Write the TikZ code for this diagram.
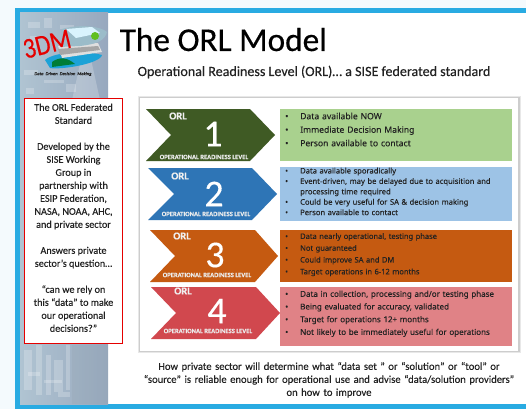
\documentclass[tikz,border=0pt]{standalone}
\usepackage{fontspec}
\setmainfont{Carlito}[FakeBold=0.25]
\newfontfamily\bulletfont{Noto Sans}[FakeBold=0.1]
\newfontfamily\titlefont{Carlito}[FakeBold=0.5]
\usetikzlibrary{shadows}
\definecolor{pagebg}{HTML}{F4FAFD}
\definecolor{frameblue}{HTML}{29ABE2}
\definecolor{barl}{HTML}{B0C4D2}
\definecolor{barr}{HTML}{97A8BE}
\definecolor{gA}{HTML}{3F5A24}\definecolor{gB}{HTML}{A9D18E}
\definecolor{bA}{HTML}{2E75B6}\definecolor{bB}{HTML}{9DC3E6}
\definecolor{oA}{HTML}{C55A11}\definecolor{oB}{HTML}{C55A11}
\definecolor{rA}{HTML}{D1484E}\definecolor{rB}{HTML}{E08286}
\definecolor{ink}{HTML}{222222}
\tikzset{
  x=1pt,y=-1pt,
  orl/.style={font=\fontsize{10.5}{10.5}\selectfont\bfseries,text=white!88!gray,inner sep=0},
  num/.style={font=\fontsize{38}{38}\selectfont,text=white,inner sep=0},
  lvl/.style={font=\fontsize{6.6}{6.6}\selectfont\bfseries,text=white!85!gray,inner sep=0},
  panelbox/.style={inner sep=0,outer sep=0},
  listnode/.style={anchor=north west,inner sep=0,text width=225pt,align=left,text=ink},
  sidetext/.style={inner sep=0,align=center,text=ink,font=\fontsize{10.2}{13}\selectfont},
}
\newcommand{\bl}[1]{\leavevmode\hbox to 15pt{\textbullet\hfil}#1\par}
\newcommand{\blc}[1]{\leavevmode\hbox to 15pt{\hfil}#1\par}
\newcommand{\chev}[8]{% name, colour, left, top, bottom, notch x, shoulder x, tip x
  \fill[#2] (#3,#4) -- (#7,#4) -- (#8,{(#4+#5)/2}) -- (#7,#5) -- (#3,#5) -- (#6,{(#4+#5)/2}) -- cycle;}
\begin{document}
\begin{tikzpicture}
\useasboundingbox (0,0) rectangle (526,409);
\fill[pagebg] (0,0) rectangle (526,409);
\fill[frameblue] (15,8) rectangle (526,409);
\fill[white] (108,13) rectangle (526,404);
% sidebar
\shade[left color=barl,right color=barr] (20,13) rectangle (108,404);
\begin{scope}
\clip (20,13) rectangle (108,404);
\fill[white,opacity=.22] (82,55) -- (90,55) -- (100,100) -- (72,100) -- cycle;
\foreach \x/\y/\w/\h in {28/22/12/6,44/18/8/10,60/25/14/4,30/36/6/12,24/70/14/5,44/80/20/3,66/84/10/8,26/88/8/6,
  24/350/8/40,36/345/6/50,46/355/5/40,54/360/9/32,66/345/4/45,28/372/12/4,44/380/18/3,58/392/12/5}
  \fill[white,opacity=.22] (\x,\y) rectangle ++(\w,\h);
\fill[barl!85!black,opacity=.25] (72,345) rectangle (108,404);
\end{scope}
% logo
\fill[cyan!75!teal] (45,60) .. controls (55,51) and (88,51) .. (102,55) .. controls (100,64) and (60,70) .. (50,68) -- cycle;
\fill[teal!60!green!70!black] (52,62) .. controls (60,56) and (68,58) .. (75,64) -- (52,67) -- cycle;
\fill[gray!25] (58,46) -- (98,43) -- (102,52) -- (62,58) -- cycle;
\fill[gray!70] (58,49) -- (98,46) -- (100,50) -- (60,55) -- cycle;
\fill[cyan!35!gray!70] (62,29) .. controls (80,24) and (100,26) .. (107,32) .. controls (105,40) and (98,44) .. (80,46) -- (60,47) -- cycle;
\fill[white!85!cyan] (66,29) -- (92,27) -- (100,33) -- (76,38) -- cycle;
\fill[green!50!brown] (95,36) circle (4);
\node[inner sep=0,text=red!90!black,rotate=14,font=\fontsize{24}{24}\selectfont,xscale=1.02,yscale=1.2] (logotext) at (47,44) {3DM};
\node[inner sep=0,text=ink,font=\fontsize{4.6}{5}\selectfont\itshape] (logotag) at (63,74) {Data \ Driven \ Decision \ Making};
% title
\node[inner sep=0,anchor=base west,font=\titlefont\fontsize{33.3}{34}\selectfont,text=black] (title) at (119.5,51) {The ORL Model};
\node[inner sep=0,anchor=base west,font=\fontsize{14.05}{15}\selectfont,text=ink] (subtitle) at (137.5,76) {Operational Readiness Level (ORL)… a SISE federated standard};
% side box
\node[draw=red!90!black,line width=1.3pt,fill=white,panelbox,minimum width=98pt,minimum height=245pt,anchor=north west] (sidebox) at (24.5,98.5) {};
\node[sidetext,anchor=north] (sidetxt) at (73.5,103.5) {The ORL Federated\\Standard\\[13pt]Developed by the\\SISE Working\\Group in\\partnership with\\ESIP Federation,\\NASA, NOAA, AHC,\\and private sector\\[13pt]Answers private\\sector’s question…\\[13pt]“can we rely on\\this “data” to make\\our operational\\decisions?”};
% panel
\fill[gray,opacity=.18] (138,96) rectangle (521,353);
\fill[gray,opacity=.25] (139,97) rectangle (520,352);
\node[fill=white,panelbox,minimum width=378pt,minimum height=253pt,anchor=north west] (panel) at (140,98) {};
% chevrons
\chev{c1}{gA}{146}{109}{161}{171}{250}{275}
\chev{c2}{bA}{148}{168}{220}{174}{252}{277}
\chev{c3}{oA}{150}{230}{282}{175}{255}{278}
\chev{c4}{rA}{151}{287}{339}{176}{256}{280}
\node[orl] (o1) at (178,116) {ORL};
\node[num] (n1) at (213,134) {1};
\node[lvl] (l1) at (204,157) {OPERATIONAL READINESS LEVEL};
\node[orl] (o2) at (180,176) {ORL};
\node[num] (n2) at (214,194) {2};
\node[lvl] (l2) at (206,214) {OPERATIONAL READINESS LEVEL};
\node[orl] (o3) at (182,236) {ORL};
\node[num] (n3) at (215,255) {3};
\node[lvl] (l3) at (207,275) {OPERATIONAL READINESS LEVEL};
\node[orl] (o4) at (183,291) {ORL};
\node[num] (n4) at (217,311) {4};
\node[lvl] (l4) at (208,331) {OPERATIONAL READINESS LEVEL};
% coloured lists
\node[fill=gB,panelbox,minimum width=232pt,minimum height=52pt,anchor=north west] (b1) at (280,109) {};
\node[fill=bB,panelbox,minimum width=232pt,minimum height=54pt,anchor=north west] (b2) at (280,167) {};
\node[fill=oB,panelbox,minimum width=232pt,minimum height=52pt,anchor=north west] (b3) at (280,230) {};
\node[fill=rB,panelbox,minimum width=232pt,minimum height=59pt,anchor=north west] (b4) at (280,287) {};
\node[listnode,font=\bulletfont\fontsize{8.6}{13.5}\selectfont] (t1) at (285,112.5) {\bl{Data available NOW}\bl{Immediate Decision Making}\bl{Person available to contact}};
\node[listnode,font=\bulletfont\fontsize{7.6}{10.4}\selectfont] (t2) at (285,167.5) {\bl{Data available sporadically}\bl{Event-driven, may be delayed due to acquisition and}\blc{processing time required}\bl{Could be very useful for SA \& decision making}\bl{Person available to contact}};
\node[listnode,font=\bulletfont\fontsize{7.5}{11.8}\selectfont] (t3) at (285,233) {\bl{Data nearly operational, testing phase}\bl{Not guaranteed}\bl{Could improve SA and DM}\bl{Target operations in 6-12 months}};
\node[listnode,font=\bulletfont\fontsize{8}{12.7}\selectfont] (t4) at (285,290.5) {\bl{Data in collection, processing and/or testing phase}\bl{Being evaluated for accuracy, validated}\bl{Target for operations 12+ months}\bl{Not likely to be immediately useful for operations}};
% bottom text
\node[inner sep=0,anchor=north,text width=380pt,align=center,text=ink,font=\fontsize{10.6}{13}\selectfont] (foot) at (329,362) {How private sector will determine what “data set ” or “solution” or “tool” or\\“source” is reliable enough for operational use and advise “data/solution providers”\\on how to improve};
\end{tikzpicture}
\end{document}
